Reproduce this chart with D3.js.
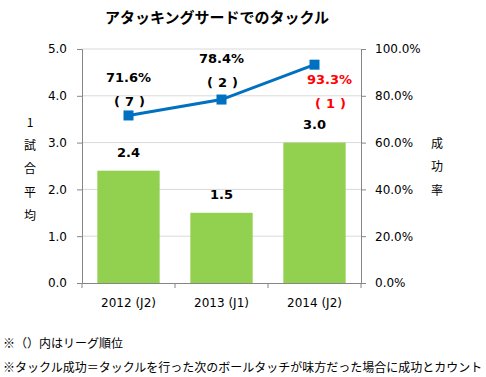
<!DOCTYPE html>
<html>
<head>
<meta charset="utf-8">
<script src="https://cdn.jsdelivr.net/npm/d3@7"></script>
<style>
  body { margin: 0; background: #fff; }
  svg text { font-family: "DejaVu Sans", "Noto Sans CJK JP", sans-serif; }
  .jp { font-family: "Noto Sans CJK JP", sans-serif; }
</style>
</head>
<body>
<div id="chart"></div>
<script>
// data
var seasons = ["2012 (J2)", "2013 (J1)", "2014 (J2)"];
var tacklesPerGame = [2.4, 1.5, 3.0];
var successRate = [71.6, 78.4, 93.3];
var leagueRank = [7, 2, 1];
var leftTicks = [0, 1, 2, 3, 4, 5];
var rightTicks = [0, 20, 40, 60, 80, 100];

const W = 486, H = 377;
const margin = {top: 49, right: 125, bottom: 94, left: 82},
    width = W - margin.left - margin.right,
    height = H - margin.top - margin.bottom;

const svg = d3.select("#chart")
  .append("svg")
    .attr("width", W)
    .attr("height", H);

const g = svg.append("g")
    .attr("transform", `translate(${margin.left},${margin.top})`);

const x = d3.scaleBand()
  .domain(seasons)
  .range([0, width])
  .paddingInner(0.33)
  .paddingOuter(0.165);

const yL = d3.scaleLinear().domain([0, 5]).range([height, 0]);
const yR = d3.scaleLinear().domain([0, 100]).range([height, 0]);

// gridlines
g.append("g")
  .selectAll("line")
  .data(leftTicks.slice(1))
  .join("line")
    .attr("x1", 0).attr("x2", width)
    .attr("y1", d => yL(d)).attr("y2", d => yL(d))
    .attr("stroke", "#d9d9d9");

// bars
g.append("g")
  .selectAll("rect")
  .data(tacklesPerGame)
  .join("rect")
    .attr("x", (d, i) => x(seasons[i]))
    .attr("y", d => yL(d))
    .attr("width", x.bandwidth())
    .attr("height", d => height - yL(d))
    .attr("fill", "#92d050");

// left axis
const axL = g.append("g")
  .call(d3.axisLeft(yL).tickValues(leftTicks).tickFormat(d3.format(".1f")).tickSizeOuter(0).tickSize(5).tickPadding(10));
// right axis
const axR = g.append("g")
  .attr("transform", `translate(${width},0)`)
  .call(d3.axisRight(yR).tickValues(rightTicks).tickFormat(d => d.toFixed(1) + "%").tickSizeOuter(0).tickSize(5).tickPadding(9));
// bottom axis
const step = width / seasons.length;
const axB = g.append("g")
  .attr("transform", `translate(0,${height})`)
  .call(d3.axisBottom(x).tickSize(0).tickPadding(15));
axB.append("g")
  .selectAll("line")
  .data(d3.range(seasons.length + 1))
  .join("line")
    .attr("x1", d => d * step).attr("x2", d => d * step)
    .attr("y1", 0).attr("y2", 5)
    .attr("stroke", "#868686");

[axL, axR, axB].forEach(a => {
  a.select(".domain").attr("stroke", "#868686");
  a.selectAll(".tick line").attr("stroke", "#868686");
  a.selectAll(".tick text").attr("font-size", 12).attr("fill", "#000");
});

// line
const cx = (d, i) => x(seasons[i]) + x.bandwidth() / 2;
g.append("path")
  .datum(successRate)
  .attr("fill", "none")
  .attr("stroke", "#0070c0")
  .attr("stroke-width", 3)
  .attr("d", d3.line().x(cx).y(d => yR(d)));

g.append("g")
  .selectAll("rect")
  .data(successRate)
  .join("rect")
    .attr("x", (d, i) => cx(d, i) - 5)
    .attr("y", d => yR(d) - 5)
    .attr("width", 10).attr("height", 10)
    .attr("fill", "#0070c0");

// line labels (rate, rank below)
var rateLabelDy = [-33, -37, 19];
var rateLabelDx = [0, 0, 15];
var labelColor = (i) => i === 2 ? "#ff0000" : "#000";
g.append("g")
  .selectAll("text")
  .data(successRate)
  .join("text")
    .attr("x", (d, i) => cx(d, i) + rateLabelDx[i])
    .attr("y", (d, i) => yR(d) + rateLabelDy[i])
    .attr("text-anchor", "middle")
    .attr("font-size", 13)
    .attr("font-weight", "bold")
    .attr("fill", (d, i) => labelColor(i))
    .text(d => d.toFixed(1) + "%");

// rank in wide brackets, spaced like the original
g.append("g")
  .selectAll("text")
  .data(leagueRank)
  .join("text")
    .attr("x", (d, i) => cx(d, i) + rateLabelDx[i] + 3.5)
    .attr("y", (d, i) => yR(successRate[i]) + rateLabelDy[i] + 24)
    .attr("text-anchor", "middle")
    .attr("font-size", 13)
    .attr("font-weight", "bold")
    .style("letter-spacing", "5px")
    .attr("fill", (d, i) => labelColor(i))
    .text(d => "(" + d + ")");

// bar labels
g.append("g")
  .selectAll("text")
  .data(tacklesPerGame)
  .join("text")
    .attr("x", (d, i) => cx(d, i))
    .attr("y", d => yL(d) - 14)
    .attr("text-anchor", "middle")
    .attr("font-size", 13)
    .attr("font-weight", "bold")
    .text(d => d.toFixed(1));

// title
svg.append("text")
  .attr("class", "jp")
  .attr("x", 217).attr("y", 23)
  .attr("text-anchor", "middle")
  .attr("font-size", 15)
  .attr("font-weight", "bold")
  .text("アタッキングサードでのタックル");

// vertical axis titles
var leftTitle = ["1", "試", "合", "平", "均"];
svg.append("g")
  .selectAll("text")
  .data(leftTitle)
  .join("text")
    .attr("class", "jp")
    .attr("x", 30)
    .attr("y", (d, i) => 127 + i * 23.2)
    .attr("text-anchor", "middle")
    .attr("font-size", 12)
    .text(d => d);

var rightTitle = ["成", "功", "率"];
svg.append("g")
  .selectAll("text")
  .data(rightTitle)
  .join("text")
    .attr("class", "jp")
    .attr("x", 437)
    .attr("y", (d, i) => 148 + i * 23.4)
    .attr("text-anchor", "middle")
    .attr("font-size", 12)
    .text(d => d);

// footnotes
svg.append("text")
  .attr("class", "jp")
  .attr("x", 3).attr("y", 348)
  .attr("font-size", 12)
  .text("※（）内はリーグ順位");
svg.append("text")
  .attr("class", "jp")
  .attr("x", 3).attr("y", 372)
  .attr("font-size", 12)
  .text("※タックル成功＝タックルを行った次のボールタッチが味方だった場合に成功とカウント");
</script>
</body>
</html>
